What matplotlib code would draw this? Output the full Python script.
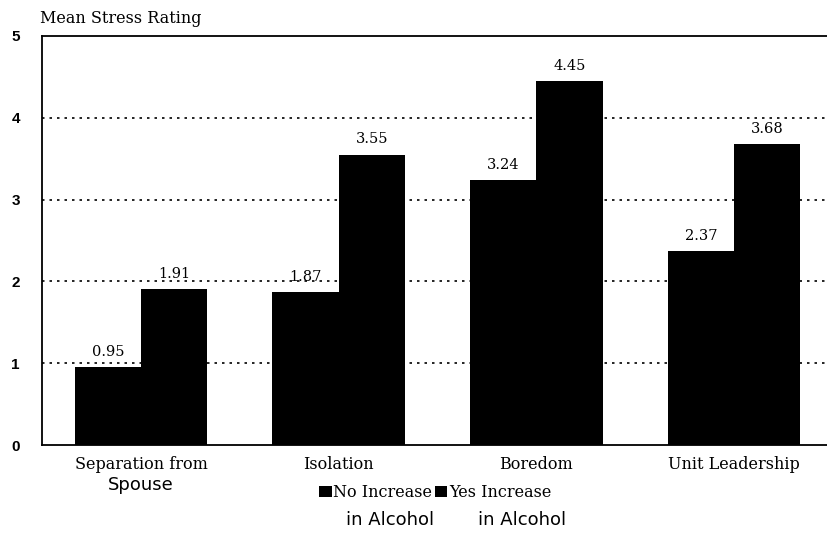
import matplotlib.pyplot as plt
import numpy as np

# Datos
categorias = ["Separation from", "Isolation", "Boredom", "Unit Leadership"]
sin_aumento = [0.95, 1.87, 3.24, 2.37]
con_aumento = [1.91, 3.55, 4.45, 3.68]
etiquetas_y = ["0", "1", "2", "3", "4", "5"]

SERIF = "DejaVu Serif"
SANS = "DejaVu Sans"

fig = plt.figure(figsize=(8.27, 5.35), dpi=100)
ax = fig.add_axes([0.051, 0.168, 0.949, 0.765])

x = np.arange(len(categorias))
ancho = 0.335

b1 = ax.bar(x - ancho / 2, sin_aumento, ancho, color="black", zorder=3)
b2 = ax.bar(x + ancho / 2, con_aumento, ancho, color="black", zorder=3)

for barras, vals in [(b1, sin_aumento), (b2, con_aumento)]:
    for b, v in zip(barras, vals):
        ax.text(b.get_x() + b.get_width() / 2, v + 0.1, f"{v:.2f}",
                ha="center", va="bottom", fontsize=10.5, family=SERIF)

ax.set_xlim(-0.5, 3.47)
ax.set_ylim(0, 5)
ax.set_yticks(range(6))
ax.set_yticklabels(etiquetas_y, fontsize=11, family="Liberation Sans", fontweight="bold")
ax.tick_params(axis="y", length=0, pad=16)
ax.tick_params(axis="x", length=0, pad=8)
ax.set_xticks(x)
ax.set_xticklabels(categorias, fontsize=11.5, family=SERIF)

for yv in range(1, 5):
    ax.axhline(yv, color="black", linestyle=(0, (1.5, 3)), linewidth=1.2, zorder=1)

ax.spines["right"].set_visible(False)
for s in ["left", "top", "bottom"]:
    ax.spines[s].set_linewidth(1.3)

# Segunda línea de la primera categoría
ax.text(0, -0.076, "Spouse", transform=ax.get_xaxis_transform(),
        ha="center", va="top", fontsize=13, family=SANS)

fig.text(0.048, 0.965, "Mean Stress Rating", fontsize=11.5, family=SERIF,
         va="center", ha="left")

# Leyenda
leg = fig.legend([b1[0], b2[0]], ["No Increase", "Yes Increase"], ncol=2,
                 loc="center", bbox_to_anchor=(0.526, 0.079), frameon=False,
                 handlelength=0.8, handleheight=0.7, handletextpad=0.1,
                 columnspacing=0.15, prop={"family": SERIF, "size": 11.5})
fig.text(0.472, 0.028, "in Alcohol", fontsize=13, family=SANS, ha="center", va="center")
fig.text(0.631, 0.028, "in Alcohol", fontsize=13, family=SANS, ha="center", va="center")

fig.savefig("out.png", dpi=100)
